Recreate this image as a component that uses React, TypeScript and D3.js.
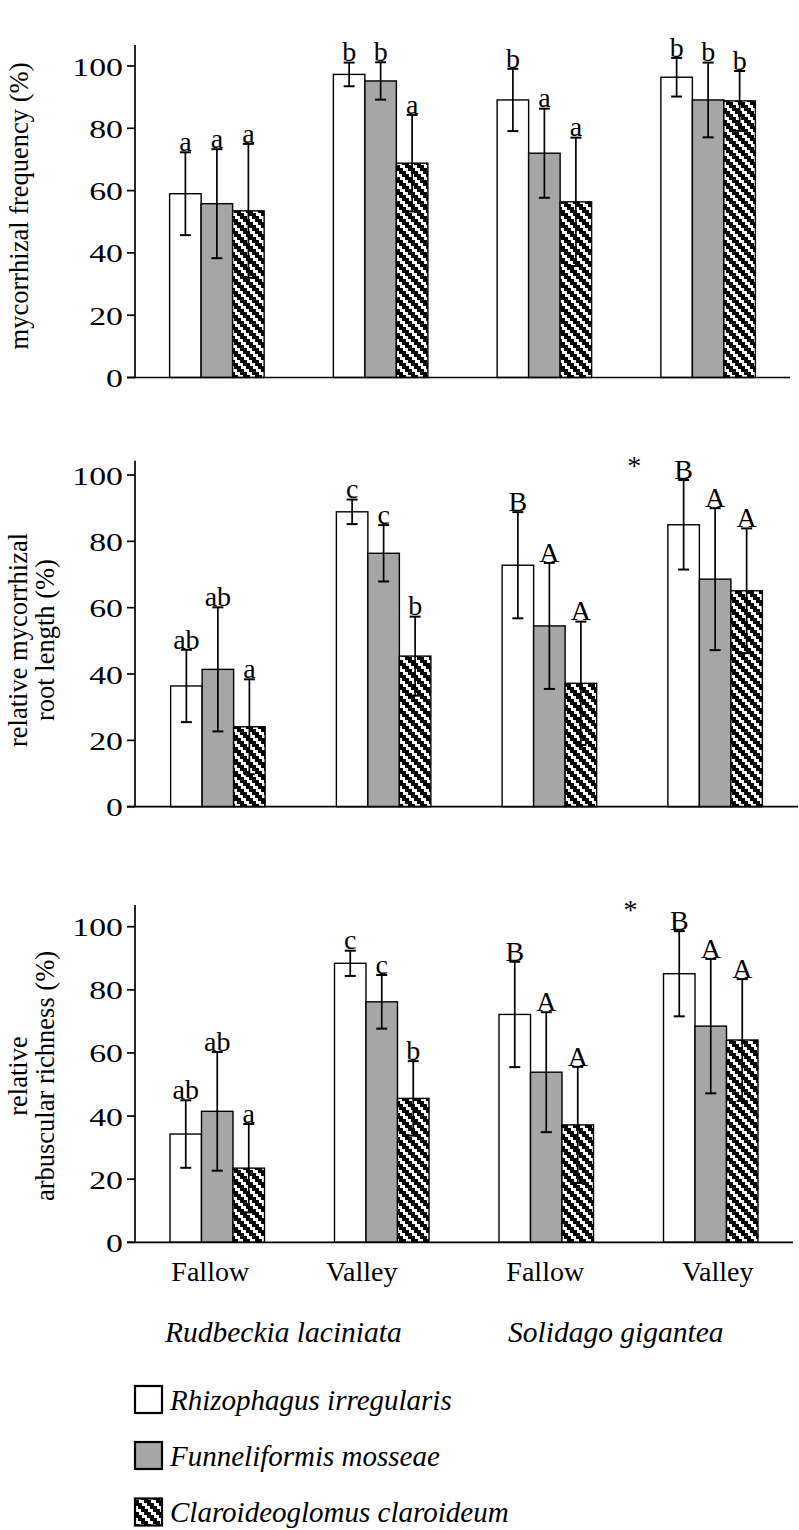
import React from "react";
import * as d3 from "d3";

// ---------- data ----------
const sites = ["Fallow", "Valley", "Fallow", "Valley"];
const plants = ["Rudbeckia laciniata", "Solidago gigantea"];
const fungi = ["Rhizophagus irregularis", "Funneliformis mosseae", "Claroideoglomus claroideum"];
const yTicks = [0, 20, 40, 60, 80, 100];

const freqMean = [[59, 55.8, 53.5], [97.3, 95.2, 68.8], [89.1, 72, 56.4], [96.4, 89.1, 88.8]];
const freqErr = [[13.3, 17.5, 21.5], [3.8, 6, 15.5], [10, 14.3, 20.6], [6.2, 12, 9.6]];
const freqLetters = [["a", "a", "a"], ["b", "b", "a"], ["b", "a", "a"], ["b", "b", "b"]];

const lenMean = [[36.4, 41.4, 24.1], [88.9, 76.4, 45.4], [72.8, 54.5, 37.2], [85, 68.6, 65.1]];
const lenErr = [[10.9, 18.7, 14.3], [3.7, 8.5, 11.9], [16, 19, 18.6], [13.5, 21.4, 18.8]];
const lenLetters = [["ab", "ab", "a"], ["c", "c", "b"], ["B", "A", "A"], ["B", "A", "A"]];

const arbMean = [[34.3, 41.5, 23.5], [88.4, 76.2, 45.6], [72.2, 53.9, 37.2], [85.1, 68.5, 64.1]];
const arbErr = [[10.7, 18.8, 14], [4, 8.5, 11.8], [16.7, 19, 18.4], [13.5, 21.3, 19.3]];
const arbLetters = [["ab", "ab", "a"], ["c", "c", "b"], ["B", "A", "A"], ["B", "A", "A"]];

const titles = [
  ["mycorrhizal frequency (%)"],
  ["relative mycorrhizal", "root length (%)"],
  ["relative", "arbuscular richness (%)"],
];
const asterisk = [false, true, true];

// ---------- layout ----------
const FONT = "'Liberation Serif', 'Times New Roman', serif";
const AX = 135;
const BAR_W = 31.5;
const panels = [
  { mean: freqMean, err: freqErr, letters: freqLetters, yTop: 45, y0: 377.5, y100: 66, xEnd: 790, titleY: 206 },
  { mean: lenMean, err: lenErr, letters: lenLetters, yTop: 460.7, y0: 806.7, y100: 475, xEnd: 798, titleY: 640 },
  { mean: arbMean, err: arbErr, letters: arbLetters, yTop: 905, y0: 1242.3, y100: 926.7, xEnd: 793, titleY: 1076 },
];
const fills = ["#ffffff", "#a6a6a6", "url(#stairs)"];
const siteLabelDx = [-7, -20, -1, 7];
const TILE = 12;
const STEP = 3;
const RUN = 7;

function Panel({ p, idx }: { p: any; idx: number }) {
  const y = d3.scaleLinear().domain([0, 100]).range([p.y0, p.y100]);
  const x = d3.scaleBand<number>().domain(d3.range(sites.length)).range([AX, p.xEnd]).padding(0);
  const t = titles[idx];
  return (
    <g>
      {p.mean.map((row: number[], g: number) =>
        row.map((v: number, s: number) => {
          const cx = (x(g) as number) + x.bandwidth() / 2 + (s - 1) * BAR_W;
          const top = y(v);
          const eHi = y(v + p.err[g][s]);
          const eLo = y(v - p.err[g][s]);
          return (
            <g key={`${g}-${s}`}>
              <rect x={cx - BAR_W / 2} y={top} width={BAR_W} height={p.y0 - top} fill={fills[s]} stroke="#000" strokeWidth={1.4} />
              <line x1={cx} x2={cx} y1={eHi} y2={eLo} stroke="#000" strokeWidth={1.7} />
              <line x1={cx - 5.5} x2={cx + 5.5} y1={eHi} y2={eHi} stroke="#000" strokeWidth={2} />
              <line x1={cx - 5.5} x2={cx + 5.5} y1={eLo} y2={eLo} stroke="#000" strokeWidth={2} />
              <text x={cx} y={eHi - 1.2} textAnchor="middle" fontSize={28} fontFamily={FONT}>{p.letters[g][s]}</text>
            </g>
          );
        })
      )}
      <line x1={AX} x2={AX} y1={p.yTop} y2={p.y0} stroke="#000" strokeWidth={1.7} />
      <line x1={AX - 8} x2={p.xEnd} y1={p.y0} y2={p.y0} stroke="#000" strokeWidth={1.7} />
      {yTicks.map((tv) => (
        <g key={tv}>
          <line x1={AX - 8} x2={AX} y1={y(tv)} y2={y(tv)} stroke="#000" strokeWidth={1.7} />
          <text transform={`translate(${AX - 12},${y(tv) + 9.5}) scale(1.3,1)`} textAnchor="end" fontSize={26} fontFamily={FONT}>{tv}</text>
        </g>
      ))}
      {t.map((line, i) => (
        <text key={i} transform={`translate(${t.length === 1 ? 28 : 27 + i * 27},${p.titleY}) rotate(-90)`} textAnchor="middle" fontSize={26.5} fontFamily={FONT}>{line}</text>
      ))}
      {asterisk[idx] && (
        <text x={(x(3) as number) + 2} y={p.yTop + 14} textAnchor="middle" fontSize={28} fontFamily={FONT}>*</text>
      )}
    </g>
  );
}

export default function App() {
  const last = panels[2];
  const xl = d3.scaleBand<number>().domain(d3.range(sites.length)).range([AX, last.xEnd]).padding(0);
  const steps = d3.range(TILE / STEP);
  return (
    <svg width={799} height={1530} style={{ position: "absolute", left: 0, top: 0, background: "#fff" }}>
      <defs>
        <pattern id="stairs" patternUnits="userSpaceOnUse" width={TILE} height={TILE}>
          <rect width={TILE} height={TILE} fill="#fff" />
          {steps.map((b) => (
            <g key={b}>
              <rect x={b * STEP} y={b * STEP} width={RUN} height={STEP} fill="#000" />
              <rect x={b * STEP - TILE} y={b * STEP} width={RUN} height={STEP} fill="#000" />
            </g>
          ))}
        </pattern>
      </defs>
      <rect width={799} height={1530} fill="#fff" />
      {panels.map((p, i) => (
        <Panel key={i} p={p} idx={i} />
      ))}
      {sites.map((s, i) => (
        <text key={i} x={(xl(i) as number) + xl.bandwidth() / 2 + siteLabelDx[i]} y={1281} textAnchor="middle" fontSize={28} fontFamily={FONT}>{s}</text>
      ))}
      <text x={165} y={1341.7} fontSize={29.5} fontStyle="italic" fontFamily={FONT}>{plants[0]}</text>
      <text x={508} y={1341.7} fontSize={29.5} fontStyle="italic" fontFamily={FONT}>{plants[1]}</text>
      {fungi.map((f, i) => {
        const by = [1386, 1442, 1498.5][i];
        return (
          <g key={f}>
            <rect x={135} y={by} width={27} height={27} fill={fills[i]} stroke="#000" strokeWidth={2.2} />
            <text x={170} y={by + 23.5} fontSize={29} fontStyle="italic" fontFamily={FONT}>{f}</text>
          </g>
        );
      })}
    </svg>
  );
}
